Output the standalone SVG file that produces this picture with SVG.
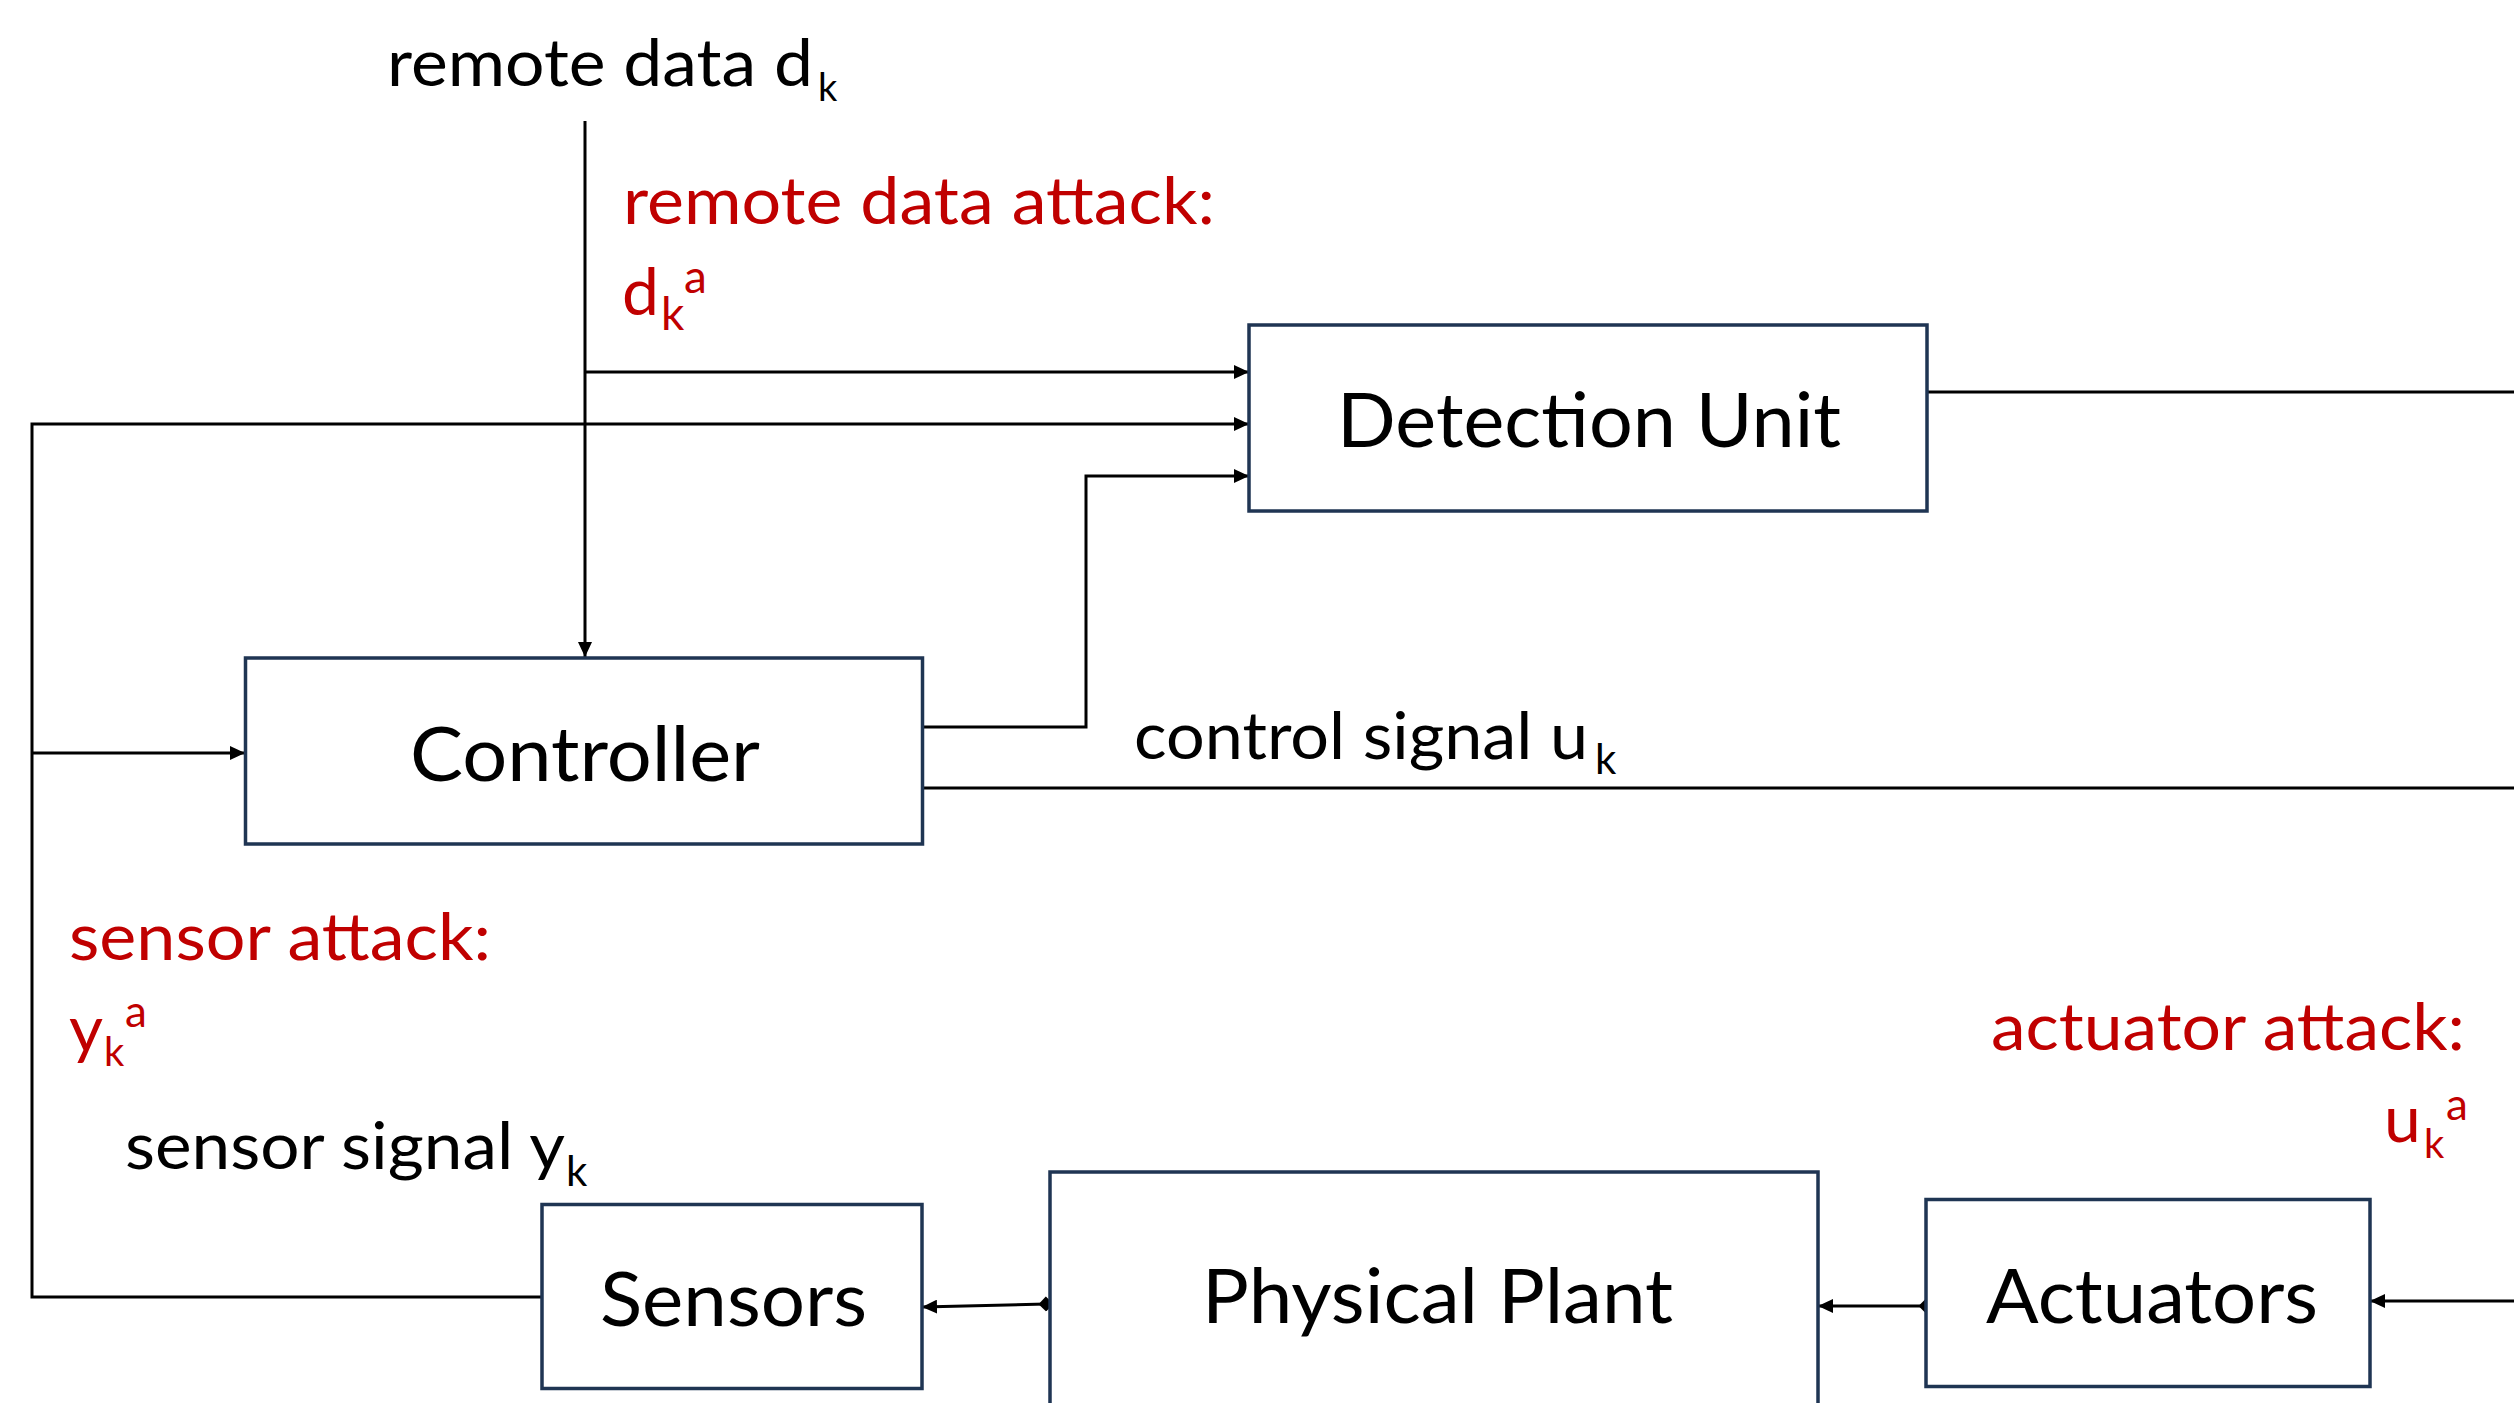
<svg xmlns="http://www.w3.org/2000/svg" width="2514" height="1403" viewBox="0 0 2514 1403">
  <style>
    .box { fill: #ffffff; stroke: #1f3553; stroke-width: 3.5; }
    .wire { fill: none; stroke: #000000; stroke-width: 3; }
    .lbl { font-family: Lato, "Open Sans", "Liberation Sans", sans-serif; fill: #000000; }
    .big { font-size: 75px; }
    .small { font-size: 66px; }
    .red { fill: #c00000; }
  </style>
  <defs>
    <marker id="arrow" markerUnits="userSpaceOnUse" markerWidth="16" markerHeight="14" refX="15" refY="7" orient="auto" viewBox="0 0 16 14">
      <path d="M0,0 L15,7 L0,14 z" fill="#000000"/>
    </marker>
    <marker id="diamond" markerUnits="userSpaceOnUse" markerWidth="15" markerHeight="15" refX="7.5" refY="7.5" orient="auto" viewBox="0 0 15 15">
      <path d="M0,7.5 L7.5,0 L15,7.5 L7.5,15 z" fill="#000000"/>
    </marker>
  </defs>
  <rect width="2514" height="1403" fill="#ffffff"/>

  <g id="connectors">
    <line class="wire" x1="585" y1="121" x2="585" y2="657" marker-end="url(#arrow)"/>
    <line class="wire" x1="585" y1="372" x2="1249" y2="372" marker-end="url(#arrow)"/>
    <polyline class="wire" points="542,1297 32,1297 32,424 1249,424" marker-end="url(#arrow)"/>
    <line class="wire" x1="32" y1="753" x2="245" y2="753" marker-end="url(#arrow)"/>
    <polyline class="wire" points="922,727 1086,727 1086,476 1249,476" marker-end="url(#arrow)"/>
    <line class="wire" x1="922" y1="788" x2="2514" y2="788"/>
    <line class="wire" x1="1927" y1="392" x2="2514" y2="392"/>
    <line class="wire" x1="2514" y1="1301" x2="2370" y2="1301" marker-end="url(#arrow)"/>
    <line class="wire" x1="1926" y1="1306" x2="1818" y2="1306" marker-start="url(#diamond)" marker-end="url(#arrow)"/>
    <line class="wire" x1="1046" y1="1304" x2="922" y2="1307" marker-start="url(#diamond)" marker-end="url(#arrow)"/>
  </g>

  <g id="detection-unit">
    <rect class="box" x="1249" y="325" width="678" height="186"/>
    <text class="lbl big" x="1337" y="447" textLength="504" lengthAdjust="spacingAndGlyphs">Detection Unit</text>
  </g>
  <g id="controller">
    <rect class="box" x="245.5" y="658" width="677" height="186"/>
    <text class="lbl big" x="410" y="781" textLength="350" lengthAdjust="spacingAndGlyphs">Controller</text>
  </g>
  <g id="sensors">
    <rect class="box" x="542" y="1204.5" width="380" height="184"/>
    <text class="lbl big" x="600" y="1326" textLength="267" lengthAdjust="spacingAndGlyphs">Sensors</text>
  </g>
  <g id="physical-plant">
    <rect class="box" x="1050" y="1172" width="768" height="260"/>
    <text class="lbl big" x="1202" y="1323" textLength="471" lengthAdjust="spacingAndGlyphs">Physical Plant</text>
  </g>
  <g id="actuators">
    <rect class="box" x="1926" y="1199.5" width="444" height="187"/>
    <text class="lbl big" x="1986" y="1323" textLength="332" lengthAdjust="spacingAndGlyphs">Actuators</text>
  </g>

  <g id="labels">
    <g id="remote-data">
      <text class="lbl small" x="387" y="86" textLength="426" lengthAdjust="spacingAndGlyphs">remote data d</text>
      <text class="lbl" x="818" y="101" font-size="38">k</text>
    </g>
    <g id="remote-data-attack">
      <text class="lbl small red" x="623" y="224" textLength="592" lengthAdjust="spacingAndGlyphs">remote data attack:</text>
      <text class="lbl small red" x="622" y="315">d</text>
      <text class="lbl red" x="661" y="330" font-size="46">k</text>
      <text class="lbl red" x="684" y="293" font-size="46">a</text>
    </g>
    <g id="control-signal">
      <text class="lbl small" x="1134" y="759" textLength="454" lengthAdjust="spacingAndGlyphs">control signal u</text>
      <text class="lbl" x="1595" y="774" font-size="42">k</text>
    </g>
    <g id="sensor-attack">
      <text class="lbl small red" x="69" y="960" textLength="422" lengthAdjust="spacingAndGlyphs">sensor attack:</text>
      <text class="lbl small red" x="69" y="1052">y</text>
      <text class="lbl red" x="104" y="1066" font-size="40">k</text>
      <text class="lbl red" x="125" y="1027" font-size="44">a</text>
    </g>
    <g id="sensor-signal">
      <text class="lbl small" x="125" y="1169" textLength="440" lengthAdjust="spacingAndGlyphs">sensor signal y</text>
      <text class="lbl" x="566" y="1186" font-size="42">k</text>
    </g>
    <g id="actuator-attack">
      <text class="lbl small red" x="1991" y="1050" textLength="474" lengthAdjust="spacingAndGlyphs">actuator attack:</text>
      <text class="lbl small red" x="2384" y="1142">u</text>
      <text class="lbl red" x="2424" y="1158" font-size="40">k</text>
      <text class="lbl red" x="2446" y="1120" font-size="44">a</text>
    </g>
  </g>
</svg>
